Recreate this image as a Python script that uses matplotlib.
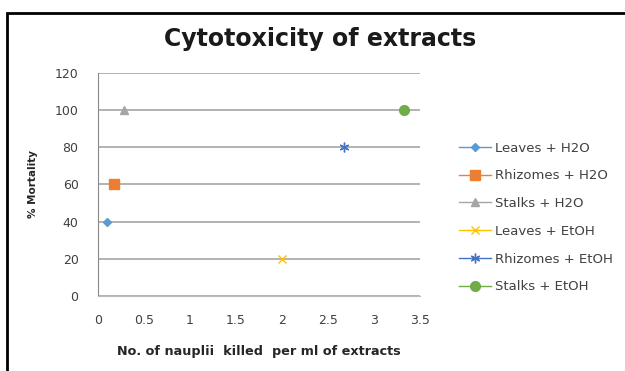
import matplotlib
matplotlib.use("Agg")
import matplotlib.pyplot as plt
from matplotlib.patches import Rectangle

# data
series_names = ["Leaves + H2O", "Rhizomes + H2O", "Stalks + H2O",
                "Leaves + EtOH", "Rhizomes + EtOH", "Stalks + EtOH"]
nauplii_killed = [0.1, 0.17, 0.28, 2.0, 2.67, 3.33]
mortality = [40, 60, 100, 20, 80, 100]

x_ticks = [0, 0.5, 1, 1.5, 2, 2.5, 3, 3.5]
x_tick_labels = ["0", "0.5", "1", "1.5", "2", "2.5", "3", "3.5"]
y_ticks = [0, 20, 40, 60, 80, 100, 120]

colors = ["#5B9BD5", "#ED7D31", "#A5A5A5", "#FFC000", "#4472C4", "#70AD47"]
markers = ["D", "s", "^", "x", (6, 2, 0), "o"]
sizes = [4, 7, 6, 6, 7, 7]

fig = plt.figure(figsize=(6.25, 3.71), dpi=100)
ax = fig.add_axes([0.1568, 0.2022, 0.5152, 0.601])

for i in range(len(series_names)):
    ax.plot([nauplii_killed[i]], [mortality[i]], marker=markers[i],
            color=colors[i], markersize=sizes[i], linestyle="-", linewidth=1,
            label=series_names[i])

ax.set_xlim(0, 3.5)
ax.set_ylim(0, 120)
ax.set_xticks(x_ticks)
ax.set_xticklabels(x_tick_labels)
ax.set_yticks(y_ticks)
ax.tick_params(axis="both", length=0, labelsize=9, colors="#404040")
ax.tick_params(axis="x", pad=13)
ax.tick_params(axis="y", pad=14)

ax.grid(axis="y", color="#A6A6A6", linewidth=1.2)
ax.set_axisbelow(True)
for side in ["top", "right"]:
    ax.spines[side].set_visible(False)
ax.spines["left"].set_color("#888888")
ax.spines["bottom"].set_color("#BBBBBB")

ax.set_xlabel("No. of nauplii  killed  per ml of extracts", fontsize=9.2,
              fontweight="bold", color="#262626", labelpad=13)
ax.set_ylabel("% Mortality", fontsize=7.5, fontweight="bold",
              color="#262626", labelpad=12)

fig.text(0.512, 0.895, "Cytotoxicity of extracts", fontsize=17,
         fontweight="bold", color="#1a1a1a", ha="center", va="center")

ax.legend(loc="center left", bbox_to_anchor=(1.085, 0.352), frameon=False,
          fontsize=9.5, labelspacing=1.12, handlelength=2.4,
          handletextpad=0.3, labelcolor="#404040")

# black frame on top and left of the image
fig.patches.append(Rectangle((7 / 625, -0.5), 1.2, 0.5 + 1 - 13 / 371,
                             transform=fig.transFigure, fill=False,
                             edgecolor="black", linewidth=2))

fig.savefig("out.png", dpi=100)
